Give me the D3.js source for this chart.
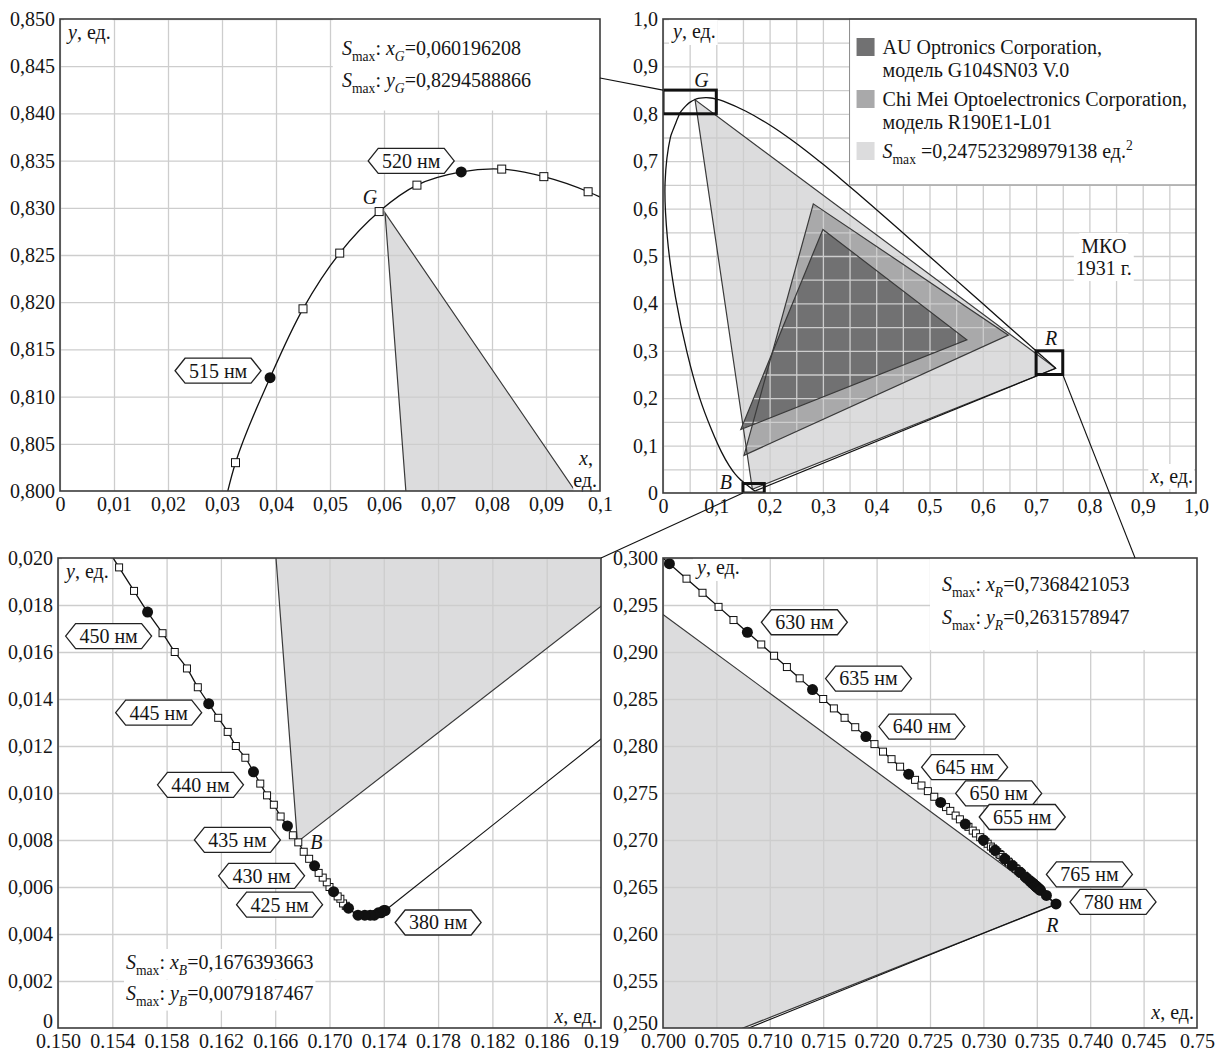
<!DOCTYPE html>
<html>
<head>
<meta charset="utf-8">
<script src="https://cdn.jsdelivr.net/npm/d3@7/dist/d3.min.js"></script>
<style>
  body { margin: 0; background: #fff; }
  svg { display: block; }
</style>
</head>
<body>
<svg id="chart" width="1223" height="1052" font-family="'Liberation Serif', 'Times New Roman', serif"></svg>
<script>
// spectral locus, CIE 1931 (x, y)
const locusNm = [380,385,390,395,400,405,410,415,
  420,421,422,423,424,425,426,427,428,429,430,431,432,433,434,435,436,437,438,439,
  440,441,442,443,444,445,446,447,448,449,450,451,452,453,454,455,
  460,465,470,475,480,485,490,495,500,505,
  510,511,512,513,514,515,516,517,518,519,520,521,522,523,524,525,
  530,535,540,545,550,555,560,565,570,575,580,585,590,595,600,605,610,615,620,
  625,626,627,628,629,630,631,632,633,634,635,636,637,638,639,640,641,642,643,644,
  645,646,647,648,649,650,651,652,653,654,655,656,657,658,659,660,661,662,663,664,
  665,666,667,668,669,670,671,672,673,674,675,676,677,678,679,680,681,682,683,684,
  685,686,687,688,689,690,691,692,693,694,695,696,697,698,699,700,
  705,710,715,720,725,730,735,740,745,750,755,760,765,780];
const locusX = [.1741,.1740,.1738,.1736,.1733,.1730,.1726,.1721,
  .1714,.1712,.1710,.1708,.1706,.1703,.1700,.1698,.1695,.1692,.1689,.1685,.1681,.1677,.1673,.1669,.1664,.1659,.1654,.1649,
  .1644,.1638,.1631,.1625,.1618,.1611,.1603,.1595,.1586,.1577,.1566,.1556,.1545,.1534,.1522,.1510,
  .1440,.1355,.1241,.1096,.0913,.0687,.0454,.0235,.0082,.0039,
  .0139,.0181,.0227,.0275,.0325,.0389,.0450,.0518,.0591,.0661,.0743,.0818,.0896,.0978,.1061,.1142,
  .1547,.1929,.2296,.2658,.3016,.3373,.3731,.4087,.4441,.4788,.5125,.5448,.5752,.6029,.6270,.6482,.6658,.6801,.6915,
  .7006,.7022,.7037,.7052,.7066,.7079,.7092,.7104,.7116,.7128,.7140,.7150,.7160,.7170,.7180,.7190,.7198,.7206,.7214,.7222,
  .7230,.7236,.7242,.7248,.7254,.7260,.7265,.7269,.7274,.7278,.7283,.7286,.7290,.7293,.7297,.7300,.7302,.7304,.7307,.7309,
  .7311,.7313,.7315,.7316,.7318,.7320,.7321,.7323,.7324,.7326,.7327,.7328,.7330,.7331,.7333,.7334,.7335,.7336,.7338,.7339,
  .73400,.73410,.73420,.73428,.73435,.73440,.73444,.73448,.73452,.73456,.73460,.73462,.73465,.73467,.73469,.73470,
  .73480,.73485,.73490,.73495,.73500,.73505,.73510,.73515,.73520,.73525,.73530,.73535,.7359,.7368];
const locusY = [.0050,.0050,.0049,.0049,.0048,.0048,.0048,.0048,
  .0051,.0052,.0053,.0055,.0056,.0058,.0060,.0062,.0064,.0066,.0069,.0072,.0075,.0079,.0082,.0086,.0090,.0095,.0099,.0104,
  .0109,.0115,.0120,.0126,.0132,.0138,.0145,.0153,.0160,.0168,.0177,.0186,.0196,.0206,.0216,.0227,
  .0297,.0399,.0578,.0868,.1327,.2007,.2950,.4127,.5384,.6548,
  .7502,.7640,.7770,.7905,.8030,.8120,.8193,.8252,.8296,.8324,.8338,.8341,.8333,.8317,.8293,.8262,
  .8059,.7816,.7543,.7243,.6923,.6589,.6245,.5896,.5547,.5202,.4866,.4544,.4242,.3965,.3725,.3514,.3340,.3197,.3083,
  .2994,.2978,.2963,.2948,.2934,.2921,.2908,.2896,.2884,.2872,.2860,.2850,.2840,.2830,.2820,.2810,.2802,.2794,.2786,.2778,
  .2770,.2764,.2758,.2752,.2746,.2740,.2735,.2731,.2726,.2722,.2717,.2714,.2710,.2707,.2703,.2700,.2698,.2696,.2693,.2691,
  .2689,.2687,.2685,.2684,.2682,.2680,.2679,.2677,.2676,.2674,.2673,.2672,.2670,.2669,.2667,.2666,.2665,.2664,.2662,.2661,
  .26600,.26590,.26580,.26572,.26565,.26560,.26556,.26552,.26548,.26544,.26540,.26538,.26535,.26533,.26531,.26530,
  .26520,.26515,.26510,.26505,.26500,.26495,.26490,.26485,.26480,.26475,.26470,.26465,.2641,.2632];

// triangles: G, B, R
const smaxX = [0.060196208, 0.1676393663, 0.7368421053];
const smaxY = [0.8294588866, 0.0079187467, 0.2631578947];
const chiMeiX = [0.282, 0.152, 0.648];
const chiMeiY = [0.610, 0.0795, 0.333];
const auX = [0.300, 0.146, 0.570];
const auY = [0.556, 0.134, 0.323];
const smaxArea = '0,247523298979138';

const legendLines = [
  ['AU Optronics Corporation,', 'модель G104SN03 V.0'],
  ['Chi Mei Optoelectronics Corporation,', 'модель R190E1-L01']
];
const ciePlate = ['МКО', '1931 г.'];

// tick labels
const tlXLabels = ['0','0,01','0,02','0,03','0,04','0,05','0,06','0,07','0,08','0,09','0,1'];
const tlYLabels = ['0,800','0,805','0,810','0,815','0,820','0,825','0,830','0,835','0,840','0,845','0,850'];
const trLabels = ['0','0,1','0,2','0,3','0,4','0,5','0,6','0,7','0,8','0,9','1,0'];
const blXLabels = ['0.150','0.154','0.158','0.162','0.166','0.170','0.174','0.178','0.182','0.186','0.19'];
const blYLabels = ['0','0,002','0,004','0,006','0,008','0,010','0,012','0,014','0,016','0,018','0,020'];
const brXLabels = ['0.700','0.705','0.710','0.715','0.720','0.725','0.730','0.735','0.740','0.745','0.75'];
const brYLabels = ['0,250','0,255','0,260','0,265','0,270','0,275','0,280','0,285','0,290','0,295','0,300'];

// wavelength callouts per zoom panel
const tlCallouts = [515, 520];
const blCallouts = [450, 445, 440, 435, 430, 425, 380];
const brCallouts = [630, 635, 640, 645, 650, 655, 765, 780];


const FONT = 20;
const GRID = '#cdcdcd';
const INK = '#151515';
const EDGE = '#3a3a3a';
const LIGHT = '#dcdcdd', MID = '#a9a9aa', DARK = '#717172';

const boxes = {
    tl: {left: 60, right: 600, top: 19, bottom: 491},
    tr: {left: 663, right: 1196, top: 19, bottom: 493},
    bl: {left: 58, right: 601, top: 558, bottom: 1028},
    br: {left: 663, right: 1197, top: 558, bottom: 1028}
};

// callout placement: side of the point, tip offset, vertical offset (px)
const calloutPos = {
    515: ['left', -9, -7], 520: ['left', -7, -11],
    450: ['left', 4, 24], 445: ['left', -7, 9], 440: ['left', -10, 13], 435: ['left', -7, 14],
    430: ['left', -10, 10], 425: ['left', -11, 13], 380: ['right', 10, 12],
    630: ['right', 14, -10], 635: ['right', 13, -11], 640: ['right', 13, -10], 645: ['right', 13, -7],
    650: ['right', 15, -9], 655: ['right', 14, -7], 765: ['right', 0, -21], 780: ['right', 14, -2]
};

const toVal = s => +s.replace(',', '.');
const comma = v => String(v).replace('.', ',');
const locus = locusNm.map((nm, i) => ({nm, x: locusX[i], y: locusY[i]}));

const svg = d3.select('#chart');
const defs = svg.append('defs');

function styleGrid(a) {
    a.select('.domain').remove();
    a.selectAll('line').attr('stroke', GRID).attr('stroke-width', 1.3);
}
function styleTicks(a) {
    a.select('.domain').remove();
    a.attr('font-family', null).attr('font-size', FONT);
    a.selectAll('text').attr('fill', INK);
}

function setupPanel(key, xLabels, yLabels, xGrid, yGrid) {
    const b = boxes[key];
    const xVals = xLabels.map(toVal), yVals = yLabels.map(toVal);
    const x = d3.scaleLinear().domain(d3.extent(xVals)).range([b.left, b.right]);
    const y = d3.scaleLinear().domain(d3.extent(yVals)).range([b.bottom, b.top]);
    const w = b.right - b.left, h = b.bottom - b.top;

    defs.append('clipPath').attr('id', 'clip-' + key)
        .append('rect').attr('x', b.left).attr('y', b.top).attr('width', w).attr('height', h);

    const g = svg.append('g').attr('class', 'panel-' + key);
    g.append('rect').attr('x', b.left).attr('y', b.top).attr('width', w).attr('height', h).attr('fill', '#fff');
    const plot = g.append('g').attr('clip-path', `url(#clip-${key})`);
    const layers = {
        fill: plot.append('g'),
        grid: plot.append('g'),
        lines: plot.append('g'),
        marks: plot.append('g'),
        notes: g.append('g')
    };

    layers.grid.append('g')
        .attr('transform', `translate(0,${b.bottom})`)
        .call(d3.axisBottom(x).tickValues(xGrid || xVals).tickSize(-h).tickFormat(''))
        .call(styleGrid);
    layers.grid.append('g')
        .attr('transform', `translate(${b.left},0)`)
        .call(d3.axisLeft(y).tickValues(yGrid || yVals).tickSize(-w).tickFormat(''))
        .call(styleGrid);

    const xAx = g.append('g')
        .attr('transform', `translate(0,${b.bottom})`)
        .call(d3.axisBottom(x).tickValues(xVals).tickFormat(d => xLabels[xVals.indexOf(d)]).tickSize(0).tickPadding(6))
        .call(styleTicks);
    const yAx = g.append('g')
        .attr('transform', `translate(${b.left},0)`)
        .call(d3.axisLeft(y).tickValues(yVals).tickFormat(d => yLabels[yVals.indexOf(d)]).tickSize(0).tickPadding(5))
        .call(styleTicks);

    return {key, b, x, y, g, layers, xAx, yAx};
}

function triangle(p, xs, ys, fill) {
    const pts = xs.map((v, i) => [p.x(v), p.y(ys[i])]);
    p.layers.fill.append('polygon').attr('points', pts.join(' ')).attr('fill', fill);
    p.layers.lines.append('polygon').attr('points', pts.join(' '))
        .attr('fill', 'none').attr('stroke', EDGE).attr('stroke-width', 1.2);
}

function locusPath(p, closeIt) {
    const line = d3.line().x(d => p.x(d.x)).y(d => p.y(d.y)).curve(d3.curveCatmullRom.alpha(0.5));
    p.layers.lines.append('path').datum(locus).attr('d', line)
        .attr('fill', 'none').attr('stroke', '#111').attr('stroke-width', 1.3);
    if (closeIt) {
        const straight = d3.line().x(d => p.x(d.x)).y(d => p.y(d.y));
        p.layers.lines.append('path').datum([locus[0], locus[locus.length - 1]]).attr('d', straight)
            .attr('fill', 'none').attr('stroke', '#111').attr('stroke-width', 1.1);
    }
}

function drawMarkers(p, sq, r) {
    const [x0, x1] = p.x.domain(), [y0, y1] = p.y.domain();
    const mx = (x1 - x0) * 0.05, my = (y1 - y0) * 0.05;
    const vis = locus.filter(d => d.x > x0 - mx && d.x < x1 + mx && d.y > y0 - my && d.y < y1 + my);
    p.layers.marks.selectAll('rect.sq')
        .data(vis.filter(d => d.nm % 5 !== 0))
        .join('rect')
        .attr('class', 'sq')
        .attr('x', d => p.x(d.x) - sq / 2)
        .attr('y', d => p.y(d.y) - sq / 2)
        .attr('width', sq).attr('height', sq)
        .attr('fill', '#fff').attr('stroke', '#111').attr('stroke-width', 1);
    p.layers.marks.selectAll('circle.dot')
        .data(vis.filter(d => d.nm % 5 === 0))
        .join('circle')
        .attr('class', 'dot')
        .attr('cx', d => p.x(d.x))
        .attr('cy', d => p.y(d.y))
        .attr('r', r)
        .attr('fill', '#111');
}

function richText(g, x, y, parts, anchor = 'start', size = FONT) {
    const t = g.append('text').attr('x', x).attr('y', y)
        .attr('font-size', size).attr('text-anchor', anchor).attr('fill', INK);
    let shift = 0;
    parts.forEach(([s, st]) => {
        const small = st === 'sub' || st === 'subi' || st === 'sup';
        const off = st === 'sup' ? -size * 0.42 : small ? size * 0.28 : 0;
        const ts = t.append('tspan').attr('dy', off - shift).text(s);
        shift = off;
        if (st === 'i' || st === 'subi') ts.attr('font-style', 'italic');
        if (small) ts.attr('font-size', size * 0.68);
    });
    return t;
}

function withBg(t, pad = 2) {
    const bb = t.node().getBBox();
    d3.select(t.node().parentNode).insert('rect', () => t.node())
        .attr('x', bb.x - pad).attr('y', bb.y - pad)
        .attr('width', bb.width + 2 * pad).attr('height', bb.height + 2 * pad)
        .attr('fill', '#fff');
    return t;
}

function tag(g, tipX, cy, side, label) {
    const w = 86, h = 25, t = 10;
    const x0 = side === 'left' ? tipX - w : tipX;
    const pts = [[x0, cy], [x0 + t, cy - h / 2], [x0 + w - t, cy - h / 2], [x0 + w, cy], [x0 + w - t, cy + h / 2], [x0 + t, cy + h / 2]];
    g.append('polygon').attr('points', pts.join(' '))
        .attr('fill', '#fff').attr('stroke', '#222').attr('stroke-width', 1.3);
    g.append('text').attr('x', x0 + w / 2).attr('y', cy).attr('dy', '0.34em')
        .attr('text-anchor', 'middle').attr('font-size', FONT).attr('fill', INK).text(label);
}

function callouts(p, list) {
    list.forEach(nm => {
        const d = locus.find(e => e.nm === nm);
        const [side, dx, dy] = calloutPos[nm];
        tag(p.layers.notes, p.x(d.x) + dx, p.y(d.y) + dy, side, nm + ' нм');
    });
}

function noteRect(p, x0, x1, y0, y1) {
    p.layers.notes.append('rect')
        .attr('x', p.x(x0)).attr('y', p.y(y1))
        .attr('width', p.x(x1) - p.x(x0)).attr('height', p.y(y0) - p.y(y1))
        .attr('fill', '#fff');
}

const smaxParts = (v, s, val) => [['S', 'i'], ['max', 'sub'], [': ', ''], [v, 'i'], [s, 'subi'], ['=' + val, '']];
const yAxisName = [['y', 'i'], [', ед.', '']];
const xAxisName = [['x', 'i'], [', ед.', '']];

// ---------- top left: green corner ----------
const tl = setupPanel('tl', tlXLabels, tlYLabels);
triangle(tl, smaxX, smaxY, LIGHT);
locusPath(tl, false);
drawMarkers(tl, 8, 5.5);
noteRect(tl, 0.0505, 0.1, 0.8403, 0.85);
richText(tl.layers.notes, tl.b.left + 282, tl.b.top + 36, smaxParts('x', 'G', comma(smaxX[0])));
richText(tl.layers.notes, tl.b.left + 282, tl.b.top + 68, smaxParts('y', 'G', comma(smaxY[0])));
callouts(tl, tlCallouts);
richText(tl.layers.notes, tl.x(smaxX[0]) - 15, tl.y(smaxY[0]) - 9, [['G', 'i']], 'middle');
withBg(richText(tl.layers.notes, tl.b.left + 8, tl.b.top + 20, yAxisName));
withBg(richText(tl.layers.notes, tl.b.right - 7, tl.b.bottom - 26, [['x', 'i'], [',', '']], 'end'), 0);
withBg(richText(tl.layers.notes, tl.b.right - 3, tl.b.bottom - 4, [['ед.', '']], 'end'), 0);

// ---------- top right: whole diagram ----------
const trGrid = d3.range(0, 1.0001, 0.05);
const tr = setupPanel('tr', trLabels, trLabels, trGrid, trGrid);
triangle(tr, smaxX, smaxY, LIGHT);
triangle(tr, chiMeiX, chiMeiY, MID);
triangle(tr, auX, auY, DARK);
locusPath(tr, true);

// legend
const lg = tr.layers.notes;
const lgLeft = tr.x(0.35);
lg.append('rect').attr('x', lgLeft).attr('y', tr.b.top)
    .attr('width', tr.b.right - lgLeft).attr('height', tr.y(0.65) - tr.b.top)
    .attr('fill', '#fff').attr('stroke', '#8c8c8c').attr('stroke-width', 1);
[DARK, MID, LIGHT].forEach((c, i) => {
    lg.append('rect').attr('x', lgLeft + 7).attr('y', tr.b.top + 19 + i * 52)
        .attr('width', 18).attr('height', 18).attr('fill', c);
});
legendLines.forEach((pair, i) => {
    pair.forEach((s, j) => {
        richText(lg, lgLeft + 33, tr.b.top + 35 + i * 52 + j * 22.5, [[s, '']]);
    });
});
richText(lg, lgLeft + 33, tr.b.top + 139, [['S', 'i'], ['max', 'sub'], [' =' + smaxArea + ' ед.', ''], ['2', 'sup']]);

// МКО plate
const plate = tr.layers.notes.append('g');
ciePlate.forEach((s, i) => {
    withBg(richText(plate, tr.x(0.827), tr.y(0.521) + 7 + i * 22, [[s, '']], 'middle'), 2);
});

withBg(richText(tr.layers.notes, tr.b.left + 10, tr.b.top + 19, yAxisName));
withBg(richText(tr.layers.notes, tr.b.right - 3, tr.b.bottom - 10, xAxisName, 'end'), 1);

// ---------- bottom left: blue corner ----------
const bl = setupPanel('bl', blXLabels, blYLabels);
triangle(bl, smaxX, smaxY, LIGHT);
locusPath(bl, true);
drawMarkers(bl, 7, 5.5);
callouts(bl, blCallouts);
richText(bl.layers.notes, bl.x(smaxX[1]) + 19, bl.y(smaxY[1]) + 7, [['B', 'i']], 'middle');
withBg(richText(bl.layers.notes, bl.b.left + 68, bl.b.bottom - 59, smaxParts('x', 'B', comma(smaxX[1]))), 2);
withBg(richText(bl.layers.notes, bl.b.left + 68, bl.b.bottom - 28, smaxParts('y', 'B', comma(smaxY[1]))), 2);
withBg(richText(bl.layers.notes, bl.b.left + 8, bl.b.top + 20, yAxisName));
withBg(richText(bl.layers.notes, bl.b.right - 4, bl.b.bottom - 5, xAxisName, 'end'), 1);
// the zero of the y axis sits a little above the corner, clear of the x labels
bl.yAx.selectAll('.tick').filter(d => d === 0).select('text').attr('y', -7);

// ---------- bottom right: red corner ----------
const br = setupPanel('br', brXLabels, brYLabels);
triangle(br, smaxX, smaxY, LIGHT);
locusPath(br, true);
drawMarkers(br, 7, 5.5);
noteRect(br, 0.725, 0.75, 0.2902, 0.30);
richText(br.layers.notes, br.b.left + 279, br.b.top + 33, smaxParts('x', 'R', comma(smaxX[2])));
richText(br.layers.notes, br.b.left + 279, br.b.top + 66, smaxParts('y', 'R', comma(smaxY[2])));
callouts(br, brCallouts);
richText(br.layers.notes, br.x(smaxX[2]) - 4, br.y(smaxY[2]) + 28, [['R', 'i']], 'middle');
withBg(richText(br.layers.notes, br.b.left + 34, br.b.top + 16, yAxisName));
withBg(richText(br.layers.notes, br.b.right - 3, br.b.bottom - 9, xAxisName, 'end'), 1);
br.yAx.selectAll('.tick').filter(d => d === 0.25).select('text').attr('y', -5);

// zoom boxes on the whole diagram, taken from the zoom panels' domains
[tl, bl, br].forEach(p => {
    const [x0, x1] = p.x.domain(), [y0, y1] = p.y.domain();
    tr.layers.lines.append('rect')
        .attr('x', tr.x(x0)).attr('y', tr.y(y1))
        .attr('width', tr.x(x1) - tr.x(x0)).attr('height', tr.y(y0) - tr.y(y1))
        .attr('fill', 'none').attr('stroke', '#111').attr('stroke-width', 3);
});
richText(tr.layers.notes, tr.x(0.072), tr.y(0.85) - 3, [['G', 'i']], 'middle');
richText(tr.layers.notes, tr.x(0.728), tr.y(0.30) - 6, [['R', 'i']], 'middle');
richText(tr.layers.notes, tr.x(0.118), tr.y(0) - 4, [['B', 'i']], 'middle');

// frames
[tl, tr, bl, br].forEach(p => {
    p.g.append('rect')
        .attr('x', p.b.left).attr('y', p.b.top)
        .attr('width', p.b.right - p.b.left).attr('height', p.b.bottom - p.b.top)
        .attr('fill', 'none').attr('stroke', '#3c3c3c').attr('stroke-width', 1.6);
});

// connectors from the boxes to the zoom panels
const conn = svg.append('g').attr('stroke', '#111').attr('stroke-width', 1.1);
conn.append('line')
    .attr('x1', tl.b.right).attr('y1', tl.y(0.84375))
    .attr('x2', tr.x(0)).attr('y2', tr.y(0.85));
conn.append('line')
    .attr('x1', bl.x(0.19)).attr('y1', bl.y(0.02))
    .attr('x2', tr.x(0.15)).attr('y2', tr.y(0));
conn.append('line')
    .attr('x1', tr.x(0.75)).attr('y1', tr.y(0.25))
    .attr('x2', br.x(0.7442)).attr('y2', br.y(0.30));
</script>
</body>
</html>
